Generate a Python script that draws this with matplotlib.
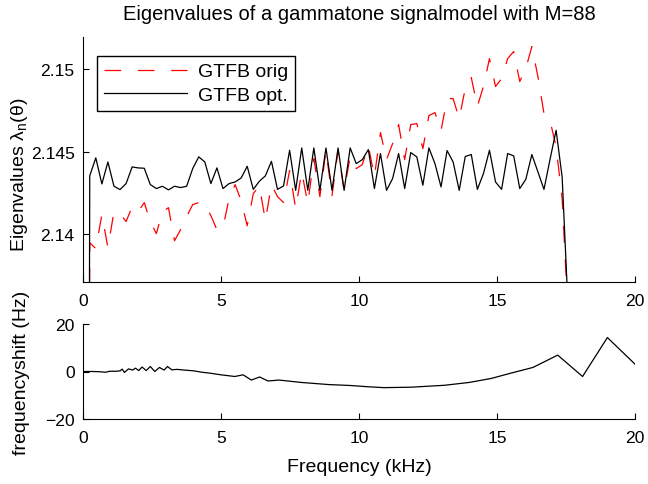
import numpy as np
import matplotlib
matplotlib.use('Agg')
import matplotlib.pyplot as plt

plt.rcParams['font.family'] = 'Liberation Sans'
plt.rcParams['font.size'] = 14
plt.rcParams['mathtext.fontset'] = 'custom'
plt.rcParams['mathtext.rm'] = 'Liberation Sans'
plt.rcParams['lines.scale_dashes'] = False

# channel grid of the eigenvalue plot (kHz)
freq = np.linspace(0.025, 17.58, 81)

# eigenvalues, optimised filterbank
eig_opt = [2.0, 2.14355, 2.14464, 2.14306, 2.14439, 2.14292, 2.14272, 2.14308, 2.14409, 2.14403,
           2.14401, 2.14302, 2.14278, 2.14292, 2.14270, 2.14292, 2.14284, 2.14292, 2.14399, 2.14470,
           2.14439, 2.14308, 2.14403, 2.14278, 2.14308, 2.14318, 2.14342, 2.14413, 2.14273, 2.14322,
           2.14355, 2.14443, 2.14273, 2.14294, 2.14510, 2.14267, 2.14524, 2.14267, 2.14524, 2.14267,
           2.14524, 2.14267, 2.14524, 2.14267, 2.14524, 2.14429, 2.14453, 2.14514, 2.14278, 2.14490,
           2.14267, 2.14338, 2.14490, 2.14278, 2.14496, 2.14470, 2.14298, 2.14524, 2.14429, 2.14288,
           2.14508, 2.14439, 2.14267, 2.14472, 2.14484, 2.14273, 2.14368, 2.14510, 2.14318, 2.14273,
           2.14490, 2.14476, 2.14278, 2.14334, 2.14484, 2.14379, 2.14273, 2.14455, 2.14631, 2.14348,
           2.1354]

# eigenvalues, original filterbank
eig_orig = [2.0, 2.13950, 2.13914, 2.14120, 2.13920, 2.14138, 2.14126, 2.14078, 2.14168, 2.14138,
            2.14193, 2.14078, 2.14005, 2.14138, 2.14162, 2.13962, 2.14029, 2.14108, 2.14181, 2.14193,
            2.14187, 2.14114, 2.14029, 2.14041, 2.14217, 2.14302, 2.14205, 2.14053, 2.14247, 2.14296,
            2.14084, 2.14302, 2.14229, 2.14193, 2.14387, 2.14156, 2.14381, 2.14187, 2.14459, 2.14229,
            2.14508, 2.14235, 2.14508, 2.14265, 2.14472, 2.14399, 2.14423, 2.14538, 2.14350, 2.14617,
            2.14453, 2.14550, 2.14665, 2.14453, 2.14665, 2.14672, 2.14520, 2.14720, 2.14738, 2.14629,
            2.14823, 2.14823, 2.14702, 2.14884, 2.14950, 2.14775, 2.14896, 2.15065, 2.14896, 2.14944,
            2.15065, 2.15108, 2.14926, 2.15005, 2.15138, 2.14956, 2.14732, 2.14690, 2.14532, 2.14217,
            2.1350]

# frequency shift of the centre frequencies
shift_freq = [0.0, 0.37, 0.6, 0.82, 0.97, 1.2, 1.35, 1.42, 1.5, 1.65, 1.8, 1.9, 2.02, 2.14, 2.29,
              2.44, 2.6, 2.77, 2.94, 3.06, 3.22, 3.4, 3.67, 4.0, 4.3, 4.6, 5.0, 5.5, 5.8, 6.1, 6.4,
              6.7, 7.1, 7.9, 8.9, 9.7, 10.3, 10.9, 11.9, 13.1, 14.0, 14.8, 15.5, 16.3, 17.2, 18.1,
              19.0, 20.0]
shift_hz = [0, 0, -0.1, -0.3, 0.1, 0.1, 0.3, 1.0, -0.4, 1.1, 0.6, 1.4, 0.4, 1.9, 0.4,
            2.1, 0, 1.7, 0.6, 2.1, 0.7, 0.9, 0.6, 0.3, -0.3, -0.7, -1.4, -2.1, -1.4, -3.6, -2.3,
            -4.0, -3.6, -4.6, -5.5, -5.9, -6.4, -6.8, -6.6, -5.8, -4.6, -2.9, -0.7, 1.7, 6.9, -2.1,
            14.3, 3.1]

W, H = 648, 485
fig = plt.figure(figsize=(W/100, H/100), dpi=100)
ax1 = fig.add_axes([83/W, 1-283/H, 552/W, 245/H])
ax2 = fig.add_axes([83/W, 1-420/H, 552/W, 95/H])

for ax in (ax1, ax2):
    ax.spines['top'].set_visible(False)
    ax.spines['right'].set_visible(False)
    for s in ('left', 'bottom'):
        ax.spines[s].set_linewidth(0.8)
    ax.tick_params(direction='in', length=4, width=0.8, pad=6, labelsize=12.6)
    ax.tick_params(axis='x', pad=8)
    ax.set_xlim(0, 20)
    ax.set_xticks([0, 5, 10, 15, 20])

ax1.plot(freq, eig_orig, color='red', lw=0.9, dashes=(12, 12), label='GTFB orig')
ax1.plot(freq, eig_opt, color='black', lw=0.9, label='GTFB opt.')
ax1.set_ylim(2.13712, 2.15196)
ax1.set_yticks([2.14, 2.145, 2.15])
ax1.set_yticklabels(['2.14', '2.145', '2.15'])
ax1.set_ylabel(r'Eigenvalues λ$_\mathrm{n}$(θ)')
ax1.yaxis.set_label_coords(-53/552, 0.44)
ax1.set_title('Eigenvalues of a gammatone signalmodel with M=88', fontsize=14.5, pad=13)
leg = ax1.legend(loc='upper left', bbox_to_anchor=(14/552, (283-57)/245), borderaxespad=0,
                 handlelength=4.3, handletextpad=0.55, borderpad=0.35, labelspacing=0.32,
                 fancybox=False, framealpha=1, fontsize=14)
leg.get_frame().set_edgecolor('black')
leg.get_frame().set_linewidth(1.0)

ax2.plot(shift_freq, shift_hz, color='black', lw=0.9)
ax2.set_ylim(-20, 20)
ax2.set_yticks([-20, 0, 20])
ax2.set_yticklabels(['\u221220', '0', '20'])
ax2.set_ylabel('frequencyshift (Hz)')
ax2.yaxis.set_label_coords(-53/552, 0.5)
ax2.set_xlabel('Frequency (kHz)', labelpad=9)

fig.savefig('out.png', dpi=100)
